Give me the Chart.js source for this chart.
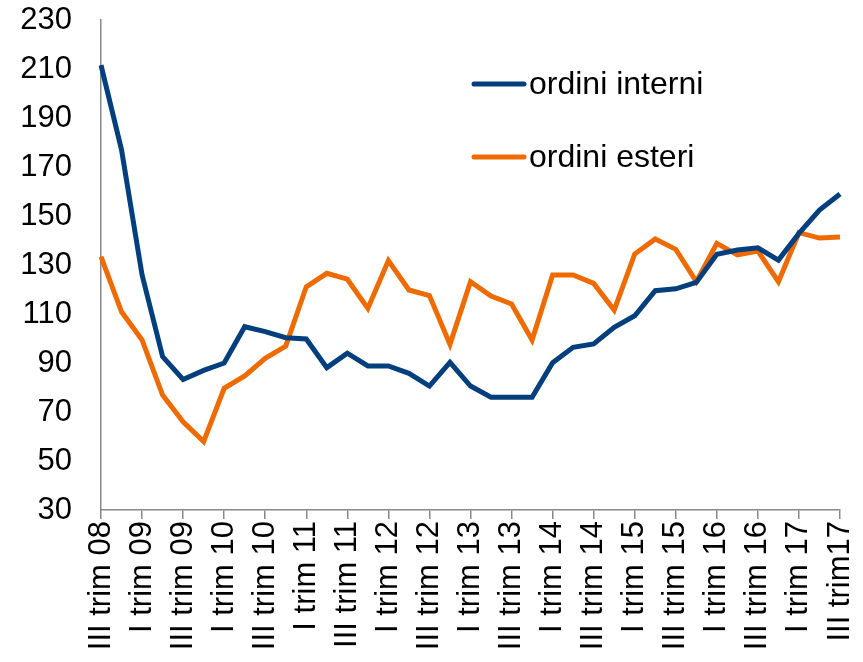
<!DOCTYPE html>
<html>
<head>
<meta charset="utf-8">
<script src="https://cdn.jsdelivr.net/npm/chart.js@4.4.1/dist/chart.umd.min.js"></script>
<style>
html,body{margin:0;padding:0;background:#fff;}
#wrap{width:863px;height:662px;position:relative;}
</style>
</head>
<body>
<div id="wrap"><canvas id="c" width="863" height="662"></canvas></div>
<script>
const quarters = [
  "III trim 08","IV trim 08",
  "I trim 09","II trim 09","III trim 09","IV trim 09",
  "I trim 10","II trim 10","III trim 10","IV trim 10",
  "I trim 11","II trim 11","III trim 11","IV trim 11",
  "I trim 12","II trim 12","III trim 12","IV trim 12",
  "I trim 13","II trim 13","III trim 13","IV trim 13",
  "I trim 14","II trim 14","III trim 14","IV trim 14",
  "I trim 15","II trim 15","III trim 15","IV trim 15",
  "I trim 16","II trim 16","III trim 16","IV trim 16",
  "I trim 17","II trim 17","III trim17"
];
const ordiniInterni = [211.6,177,126,92.6,83.3,87,90,104.8,102.8,100.3,99.8,88.1,94,88.8,88.8,85.8,80.6,90.3,80.6,76,76,76,90.1,96.4,97.8,104.6,109.3,119.5,120.3,122.9,134.4,136.1,137,132,142.9,152.4,159];
const ordiniEsteri = [133.4,110.9,99.4,76.9,66,57.9,79.7,84.7,91.9,96.9,121.1,126.6,124.2,112.3,131.8,119.8,117.5,97.6,123.2,117.3,114.1,99.4,125.9,125.9,122.5,111.6,134.5,140.6,136.4,123.2,138.8,134.1,135.7,123.2,143.2,141,141.4];
const seriesNames = ["ordini interni","ordini esteri"];
const seriesColors = ["#033F7D","#EE6A02"];
const yMin = 30, yMax = 230, yStep = 20;

const FONT = "'Liberation Sans', Arial, sans-serif";

const legendPlugin = {
  id: 'customLegend',
  afterDraw(chart) {
    const ctx = chart.ctx;
    const rows = [84, 157];
    ctx.save();
    chart.data.datasets.forEach((ds, i) => {
      const y = rows[i];
      ctx.strokeStyle = ds.borderColor;
      ctx.lineWidth = 5;
      ctx.lineCap = 'round';
      ctx.beginPath();
      ctx.moveTo(474, y);
      ctx.lineTo(524, y);
      ctx.stroke();
      ctx.fillStyle = '#000';
      ctx.font = "32px " + FONT;
      ctx.textBaseline = 'middle';
      ctx.textAlign = 'left';
      ctx.fillText(ds.label, 529, y + 1);
    });
    ctx.restore();
  }
};

new Chart(document.getElementById('c'), {
  type: 'line',
  data: {
    labels: quarters,
    datasets: [
      { label: seriesNames[0], data: ordiniInterni, borderColor: seriesColors[0], backgroundColor: seriesColors[0], borderWidth: 5, pointRadius: 0, tension: 0, fill: false },
      { label: seriesNames[1], data: ordiniEsteri, borderColor: seriesColors[1], backgroundColor: seriesColors[1], borderWidth: 5, pointRadius: 0, tension: 0, fill: false }
    ]
  },
  options: {
    responsive: false,
    animation: false,
    devicePixelRatio: 1,
    layout: { padding: { top: 20, right: 23, bottom: 0, left: 0 } },
    plugins: { legend: { display: false }, tooltip: { enabled: false } },
    scales: {
      x: {
        offset: false,
        grid: { display: true, drawOnChartArea: false, drawTicks: true, tickLength: 9, color: '#888', lineWidth: 1.5 },
        border: { display: true, color: '#888', width: 1.5 },
        ticks: {
          autoSkip: false, maxRotation: 90, minRotation: 90, padding: 2,
          color: '#000', font: { family: FONT, size: 31 },
          callback: function(v, i) { return i % 2 === 0 ? quarters[i] : null; }
        },
        afterFit(scale) { scale.height = 152; scale.paddingLeft = 0; scale.paddingRight = 0; }
      },
      y: {
        min: yMin, max: yMax,
        grid: { display: false, drawTicks: false },
        border: { display: true, color: '#888', width: 1.5 },
        ticks: { stepSize: yStep, padding: 29, color: '#000', font: { family: FONT, size: 31 } },
        afterFit(scale) { scale.width = 101; scale.paddingTop = 0; scale.paddingBottom = 0; }
      }
    }
  },
  plugins: [legendPlugin]
});
</script>
</body>
</html>
